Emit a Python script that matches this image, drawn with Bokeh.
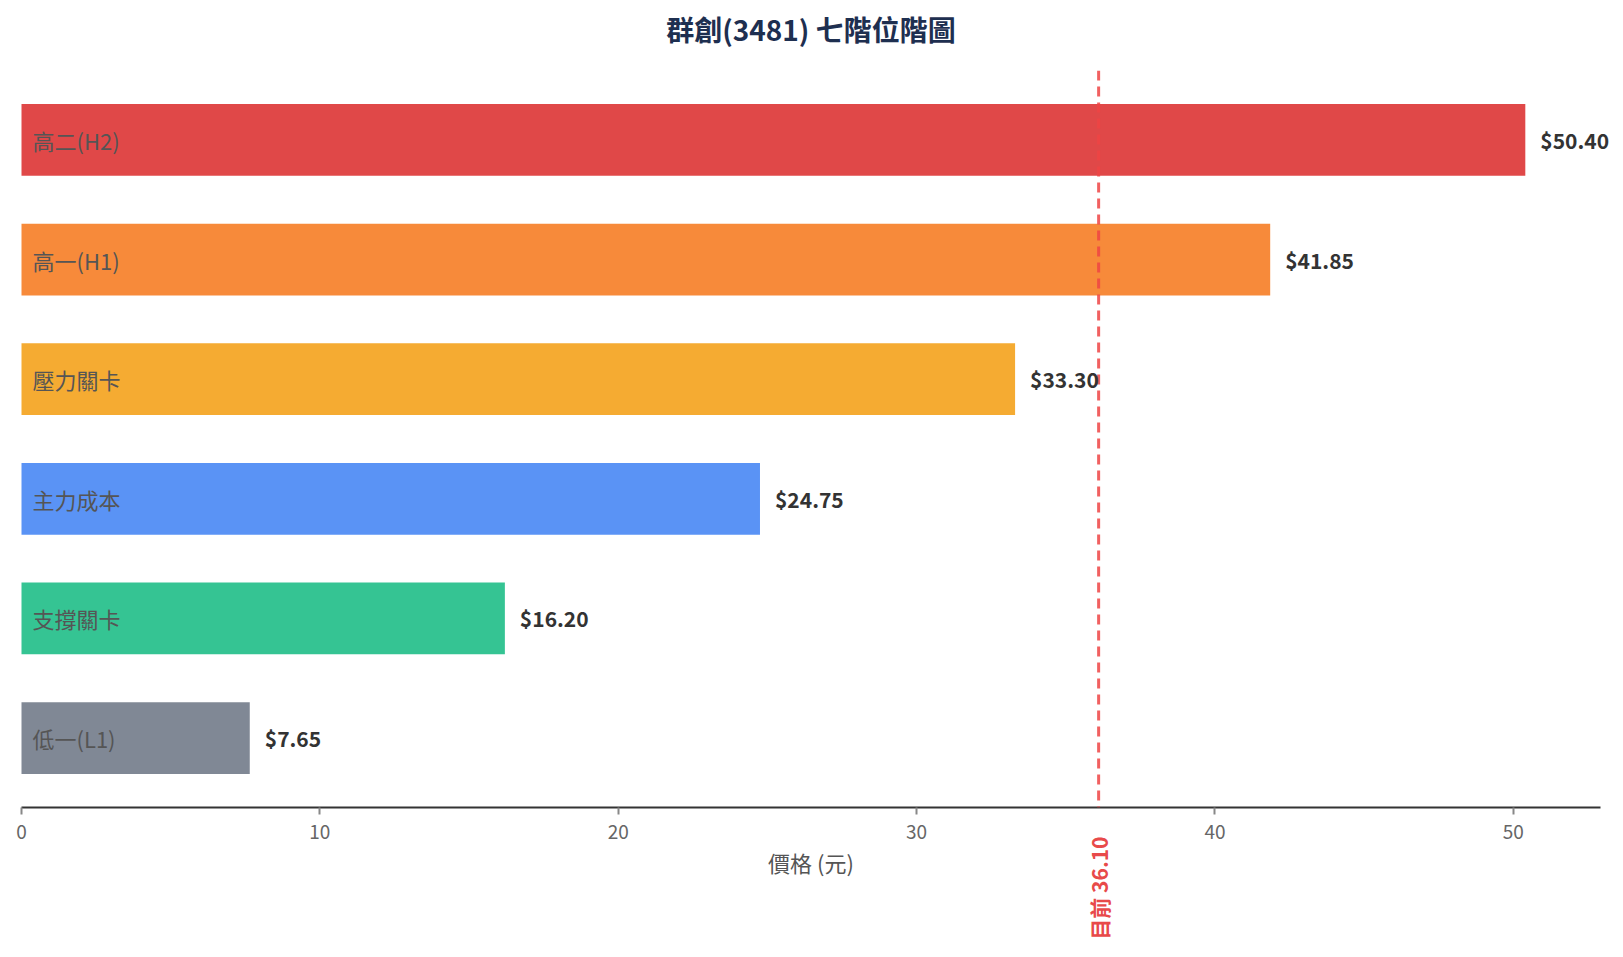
import math

from bokeh.plotting import figure
from bokeh.models import (ColumnDataSource, LabelSet, LinearAxis, Span,
                          SingleIntervalTicker, FixedTicker)
from bokeh.core.properties import value
from bokeh.embed import file_html
from bokeh.resources import INLINE

# price levels, bottom to top
levels = ["低一(L1)", "支撐關卡", "主力成本", "壓力關卡", "高一(H1)", "高二(H2)"]
prices = [7.65, 16.20, 24.75, 33.30, 41.85, 50.40]
colors = ["#808895", "#35c493", "#5a93f5", "#f5ab32", "#f78a3a", "#e04848"]
current_price = 36.10

title_text = "群創(3481) 七階位階圖"
x_label = "價格 (元)"

FONT = "Noto Sans CJK TC"

source = ColumnDataSource(data=dict(
    pos=list(range(len(levels))),
    level=levels,
    price=prices,
    color=colors,
    price_text=["$%.2f" % v for v in prices],
))

x_end = max(prices) * 1.05
# the frame is padded on both sides of the axis so the last value
# label is not cut off and everything stays centred
axis_w, pad_px = 1579, 17
pad = x_end * pad_px / axis_w

p = figure(frame_width=axis_w + 2 * pad_px, frame_height=737,
           x_range=(-pad, x_end + pad),
           y_range=(-0.58, len(levels) - 0.42),
           y_axis_location=None,
           min_border_left=21 - pad_px, min_border_right=4,
           min_border_top=70, min_border_bottom=136,
           output_backend="svg", toolbar_location=None)

p.outline_line_color = None
p.xgrid.grid_line_color = None
p.ygrid.grid_line_color = None

# bars
p.hbar(y="pos", left=0, right="price", height=0.6, color="color",
       line_color=None, source=source)

# level names inside the bars
p.text(x=0, y="pos", text="level", x_offset=11, text_baseline="middle",
       text_font=value(FONT), text_font_size="22px", text_color="#555555",
       source=source)

# current price line
p.add_layout(Span(location=current_price, dimension="height",
                  line_color="#ef4444", line_alpha=0.85, line_width=3,
                  line_dash="10 6"))

# price values at bar ends
p.add_layout(LabelSet(x="price", y="pos", text="price_text", x_offset=15,
                      text_baseline="middle", text_font=value(FONT),
                      text_font_size="21px", text_font_style="bold",
                      text_color="#333333", source=source))

ax = p.xaxis[0]
ax.bounds = (0, x_end)
ax.ticker = SingleIntervalTicker(interval=10, num_minor_ticks=0)
ax.major_label_text_font = FONT
ax.major_label_text_font_size = "19px"
ax.major_label_text_color = "#666666"
ax.major_label_standoff = 10
ax.axis_line_color = "#333333"
ax.axis_line_width = 2
ax.major_tick_line_color = "#888888"
ax.major_tick_line_width = 2
ax.major_tick_out = 7
ax.major_tick_in = 0
ax.minor_tick_line_color = None


def bare_axis(ticks):
    a = LinearAxis(ticker=FixedTicker(ticks=ticks))
    a.axis_line_color = None
    a.major_tick_line_color = None
    a.minor_tick_line_color = None
    a.major_tick_out = 0
    a.major_tick_in = 0
    return a


# heading, placed as the label of an empty top axis
top_ax = bare_axis([])
top_ax.major_label_standoff = 0
top_ax.axis_label = title_text
top_ax.axis_label_text_font = FONT
top_ax.axis_label_text_font_size = "28px"
top_ax.axis_label_text_font_style = "bold"
top_ax.axis_label_text_color = "#1e2f50"
top_ax.axis_label_standoff = 22
p.add_layout(top_ax, "above")

# second axis under the first: vertical tag for the current price,
# and it carries the axis title
cur_ax = bare_axis([current_price])
cur_ax.major_label_overrides = {current_price: "目前 %.2f" % current_price}
cur_ax.major_label_orientation = math.pi / 2
cur_ax.major_label_text_font = FONT
cur_ax.major_label_text_font_size = "21px"
cur_ax.major_label_text_font_style = "bold"
cur_ax.major_label_text_color = "#e84a4a"
cur_ax.major_label_standoff = -5
cur_ax.axis_label = x_label
cur_ax.axis_label_text_font = FONT
cur_ax.axis_label_text_font_size = "22px"
cur_ax.axis_label_text_font_style = "normal"
cur_ax.axis_label_text_color = "#555555"
cur_ax.axis_label_standoff = -97
p.add_layout(cur_ax, "below")

open("out.html", "w").write(file_html(p, INLINE))
